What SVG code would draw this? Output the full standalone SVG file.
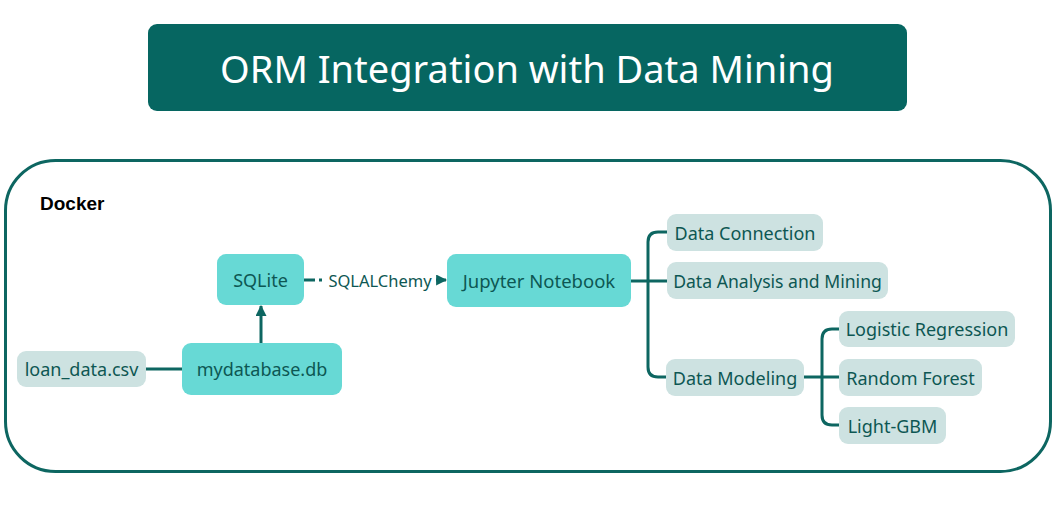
<svg xmlns="http://www.w3.org/2000/svg" width="1059" height="505" viewBox="0 0 1059 505">
<defs>
<style>
.t{font-family:"Noto Sans","Liberation Sans",sans-serif;font-size:18px;fill:#0d5753;text-anchor:middle;dominant-baseline:central}
.main rect{fill:#67d9d5}
.sub rect{fill:#cde2e1}
.ln{fill:none;stroke:#0d6661;stroke-width:3}
</style>
<marker id="ah" viewBox="0 0 10 10" refX="9" refY="5" markerWidth="11" markerHeight="11" markerUnits="userSpaceOnUse" orient="auto"><path d="M0,0 L10,5 L0,10 Z" fill="#0d6661"/></marker>
</defs>
<rect width="1059" height="505" fill="#ffffff"/>
<g id="title">
<rect x="148" y="24" width="759" height="87" rx="9" fill="#066661"/>
<text x="527" y="68" font-family="Noto Sans, Liberation Sans, sans-serif" font-size="38" fill="#ffffff" text-anchor="middle" dominant-baseline="central">ORM Integration with Data Mining</text>
</g>
<g id="docker">
<rect x="5.5" y="160.5" width="1045" height="311" rx="50" fill="none" stroke="#0d6661" stroke-width="3"/>
<text x="40" y="210" font-family="Liberation Sans, Arial, sans-serif" font-size="19" font-weight="bold" fill="#000000">Docker</text>
</g>
<g id="connectors">
<line class="ln" x1="146" y1="369" x2="182" y2="369"/>
<line class="ln" x1="261" y1="343" x2="261" y2="306" marker-end="url(#ah)"/>
<line class="ln" x1="304" y1="280" x2="325" y2="280" stroke-dasharray="11,4,3,4"/>
<text x="380" y="280" class="t" style="font-size:16.5px">SQLALChemy</text>
<line x1="436" y1="280" x2="446" y2="280" class="ln" stroke-width="0" marker-end="url(#ah)"/>
<path class="ln" d="M631,281 H667"/>
<path class="ln" d="M667,232 H658 Q648,232 648,242 V367 Q648,377 658,377 H667"/>
<path class="ln" d="M804,377 H839"/>
<path class="ln" d="M839,329 H832 Q822,329 822,339 V415 Q822,425 832,425 H839"/>
</g>
<g id="loan" class="sub"><rect x="17" y="351" width="129" height="36" rx="9"/><text class="t" x="81.5" y="369">loan_data.csv</text></g>
<g id="mydb" class="main"><rect x="182" y="343" width="160" height="52" rx="9"/><text class="t" x="262" y="369">mydatabase.db</text></g>
<g id="sqlite" class="main"><rect x="217" y="254" width="87" height="51" rx="9"/><text class="t" x="260.5" y="279.5">SQLite</text></g>
<g id="jupyter" class="main"><rect x="447" y="254" width="184" height="53" rx="9"/><text class="t" x="539" y="280.5" style="font-size:18.5px">Jupyter Notebook</text></g>
<g id="dataconn" class="sub"><rect x="667" y="214" width="156" height="37" rx="9"/><text class="t" x="745" y="232.5">Data Connection</text></g>
<g id="analysis" class="sub"><rect x="667" y="262" width="221" height="37" rx="9"/><text class="t" x="777.5" y="280.5" style="font-size:17.6px">Data Analysis and Mining</text></g>
<g id="modeling" class="sub"><rect x="666" y="359" width="138" height="37" rx="9"/><text class="t" x="735" y="377.5">Data Modeling</text></g>
<g id="logreg" class="sub"><rect x="839" y="311" width="176" height="36" rx="9"/><text class="t" x="927" y="329">Logistic Regression</text></g>
<g id="rf" class="sub"><rect x="839" y="359" width="143" height="37" rx="9"/><text class="t" x="910.5" y="377.5">Random Forest</text></g>
<g id="lgbm" class="sub"><rect x="839" y="407" width="107" height="37" rx="9"/><text class="t" x="892.5" y="425.5">Light-GBM</text></g>
</svg>
